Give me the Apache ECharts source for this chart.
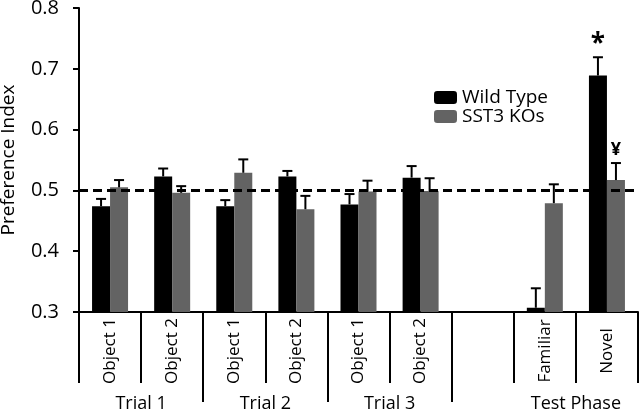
<!DOCTYPE html>
<html>
<head>
<meta charset="utf-8">
<script src="https://cdn.jsdelivr.net/npm/echarts@6/dist/echarts.min.js"></script>
<style>html,body{margin:0;padding:0;background:#fff}#c{width:640px;height:411px}</style>
</head>
<body>
<div id="c"></div>
<script>
var categories = ['Object 1','Object 2','Object 1','Object 2','Object 1','Object 2','','Familiar','Novel'];
var wildType = [0.474, 0.523, 0.474, 0.523, 0.477, 0.521, null, 0.307, 0.689];
var wildErr  = [0.012, 0.013, 0.010, 0.009, 0.017, 0.019, null, 0.032, 0.030];
var ko       = [0.505, 0.496, 0.529, 0.469, 0.498, 0.499, null, 0.479, 0.517];
var koErr    = [0.012, 0.011, 0.022, 0.022, 0.018, 0.021, null, 0.031, 0.028];
var wildMarks = ['', '', '', '', '', '', '', '', '*'];
var koMarks   = ['', '', '', '', '', '', '', '', '¥'];
var groupLabels = ['Trial 1','Trial 2','Trial 3','Test Phase'];
var groupCenters = [1, 3, 5, 8];
var groupBounds = [2, 4, 6];
var refLine = 0.5;
var yTicks = [0.3, 0.4, 0.5, 0.6, 0.7, 0.8];

var FONT = 'Open Sans';
var BW = 18;

function errData(vals, errs, marks) {
  var out = [];
  for (var i = 0; i < vals.length; i++) {
    if (vals[i] == null) continue;
    out.push([i, vals[i], errs[i], marks[i]]);
  }
  return out;
}
function errSeries(name, vals, errs, marks, shift, markSize) {
  return {
    type: 'custom', name: name + ' err', z: 5,
    data: errData(vals, errs, marks),
    encode: {x: 0, y: 1},
    renderItem: function (params, api) {
      var i = api.value(0), v = api.value(1), e = api.value(2);
      var m = marks[i];
      var base = api.coord([i, v]);
      var top = api.coord([i, v + e]);
      var x = base[0] + shift;
      var ch = [
        {type: 'line', shape: {x1: x, y1: base[1], x2: x, y2: top[1]}, style: {stroke: '#000', lineWidth: 2}},
        {type: 'line', shape: {x1: x - 5, y1: top[1], x2: x + 5, y2: top[1]}, style: {stroke: '#000', lineWidth: 2}}
      ];
      if (m) {
        ch.push({type: 'text', x: x, y: top[1] - 13, style: {text: m, fill: '#000', font: 'bold ' + markSize + 'px "' + FONT + '"', align: 'center', verticalAlign: 'middle'}});
      }
      return {type: 'group', children: ch};
    }
  };
}

var chart = echarts.init(document.getElementById('c'));
chart.setOption({
  animation: false,
  grid: {left: 79, right: 2, top: 8, bottom: 99, outerBoundsMode: 'none', containLabel: false},
  legend: {
    orient: 'vertical', left: 429, top: 83, itemWidth: 23, itemHeight: 13, itemGap: 0,
    textStyle: {fontFamily: FONT, fontSize: 19, color: '#000'},
    data: ['Wild Type', 'SST3 KOs']
  },
  xAxis: [{
    type: 'category', data: categories, boundaryGap: true,
    axisLine: {lineStyle: {color: '#000', width: 2}},
    axisTick: {show: true, length: 71, lineStyle: {color: '#000', width: 2}, interval: 0},
    axisLabel: {interval: 0, rotate: 90, align: 'center', verticalAlign: 'middle', margin: 39, fontFamily: FONT, fontSize: 17, color: '#000'}
  }, {
    type: 'value', min: 0, max: 9, position: 'bottom',
    axisLine: {show: false}, splitLine: {show: false},
    axisTick: {show: true, customValues: groupBounds, length: 90, lineStyle: {color: '#000', width: 2}},
    axisLabel: {customValues: groupCenters, margin: 83, fontFamily: FONT, fontSize: 18, color: '#000',
      formatter: function (v) { var k = groupCenters.indexOf(v); return k >= 0 ? groupLabels[k] : ''; }}
  }],
  yAxis: {
    type: 'value', min: yTicks[0], max: yTicks[yTicks.length - 1], interval: 0.1,
    name: 'Preference Index', nameLocation: 'middle', nameGap: 61, nameRotate: 90,
    nameTextStyle: {fontFamily: FONT, fontSize: 19, color: '#000'},
    axisLine: {show: true, lineStyle: {color: '#000', width: 2}},
    axisTick: {show: true, length: 6, lineStyle: {color: '#000', width: 2}},
    splitLine: {show: false},
    axisLabel: {margin: 20, fontFamily: FONT, fontSize: 20, color: '#000', formatter: function (v) { return v.toFixed(1); }}
  },
  series: [
    {type: 'bar', name: 'Wild Type', data: wildType, barWidth: BW, barGap: '0%', itemStyle: {color: '#000'},
      markLine: {silent: true, symbol: 'none', label: {show: false}, lineStyle: {color: '#000', type: [9, 5], width: 3}, data: [{yAxis: refLine}]}},
    {type: 'bar', name: 'SST3 KOs', data: ko, barWidth: BW, barGap: '0%', itemStyle: {color: '#636363'}},
    errSeries('Wild Type', wildType, wildErr, wildMarks, -BW / 2, 26),
    errSeries('SST3 KOs', ko, koErr, koMarks, BW / 2, 18)
  ]
});
</script>
</body>
</html>
